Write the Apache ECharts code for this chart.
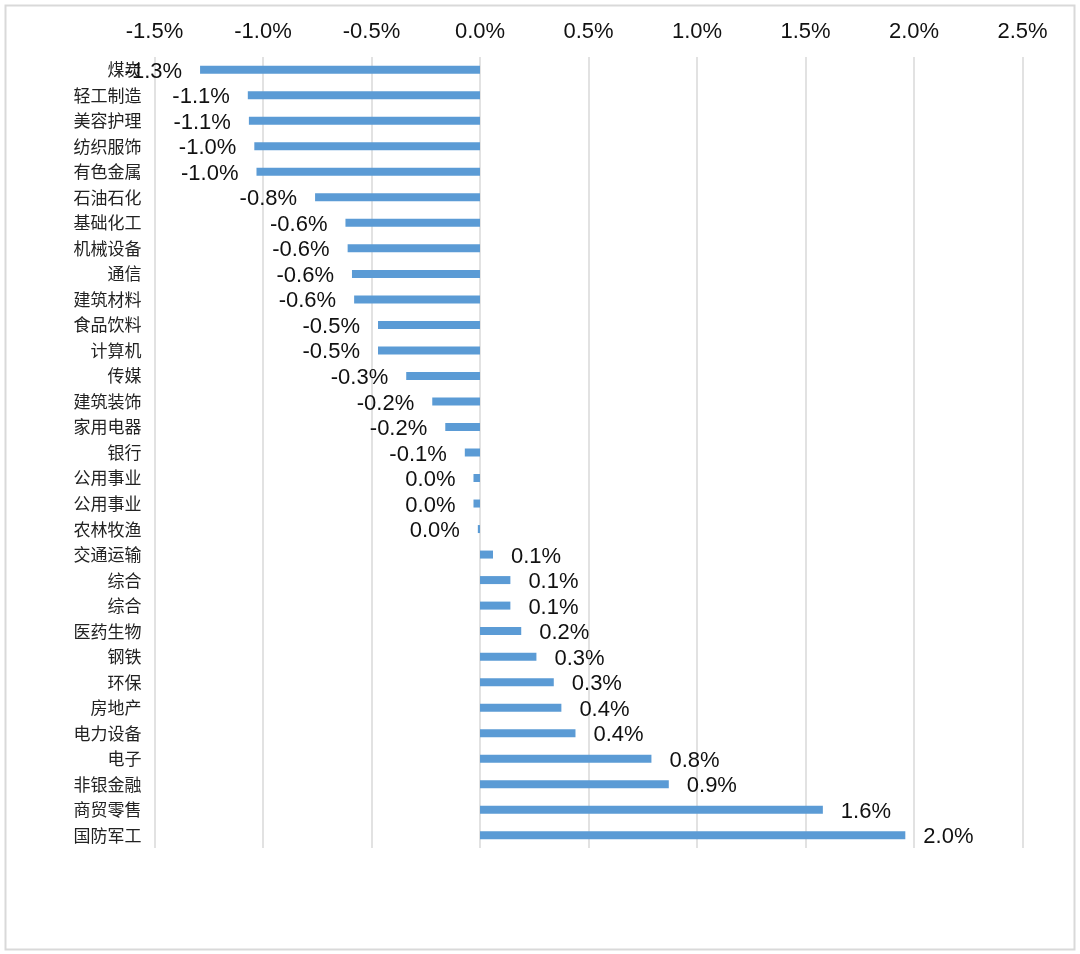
<!DOCTYPE html>
<html><head><meta charset="utf-8">
<script src="https://cdn.jsdelivr.net/npm/echarts@6/dist/echarts.min.js"></script>
<style>html,body{margin:0;padding:0;background:#fff;}#c{width:1080px;height:954px;}</style>
</head><body><div id="c"></div>
<script>
const categories = ['煤炭','轻工制造','美容护理','纺织服饰','有色金属','石油石化','基础化工','机械设备','通信','建筑材料','食品饮料','计算机','传媒','建筑装饰','家用电器','银行','公用事业','公用事业','农林牧渔','交通运输','综合','综合','医药生物','钢铁','环保','房地产','电力设备','电子','非银金融','商贸零售','国防军工'];
const values = [-1.29,-1.07,-1.065,-1.04,-1.03,-0.76,-0.62,-0.61,-0.59,-0.58,-0.47,-0.47,-0.34,-0.22,-0.16,-0.07,-0.03,-0.03,-0.01,0.06,0.14,0.14,0.19,0.26,0.34,0.375,0.44,0.79,0.87,1.58,1.96];
const xTicks = [-1.5,-1.0,-0.5,0,0.5,1.0,1.5,2.0,2.5];

function fmt(v){ let s=(Math.round(v*10)/10).toFixed(1); if(s==='-0.0') s='0.0'; return s+'%'; }

const chart = echarts.init(document.getElementById('c'));
chart.setOption({
  backgroundColor:'#fff',
  animation:false,
  graphic:[{type:'rect',shape:{x:5.5,y:5.5,width:1069,height:944},style:{fill:'none',stroke:'#d9d9d9',lineWidth:2}}],
  grid:{left:154.5,right:57.5,top:57,bottom:106},
  xAxis:{type:'value',position:'top',min:xTicks[0],max:xTicks[xTicks.length-1],interval:0.5,
    axisLine:{show:false},axisTick:{show:false},
    splitLine:{lineStyle:{color:'#d9d9d9',width:1.5}},
    axisLabel:{formatter:v=>v.toFixed(1)+'%',fontSize:22,color:'#111',fontFamily:'Liberation Sans, Arial, sans-serif',margin:14}},
  yAxis:{type:'category',inverse:true,data:categories,
    axisLine:{show:false},axisTick:{show:false},
    axisLabel:{fontSize:17,color:'#222',fontFamily:'Noto Sans CJK SC',margin:13,interval:0}},
  series:[{type:'bar',barWidth:8,
    itemStyle:{color:'#5b9bd5'},
    data:values.map(v=>({value:v,label:{show:true,position:v<0?'left':'right',distance:18,offset:[0,2],formatter:()=>fmt(v),fontSize:22,color:'#111',fontFamily:'Liberation Sans, Arial, sans-serif'}}))
  }]
});
</script></body></html>
